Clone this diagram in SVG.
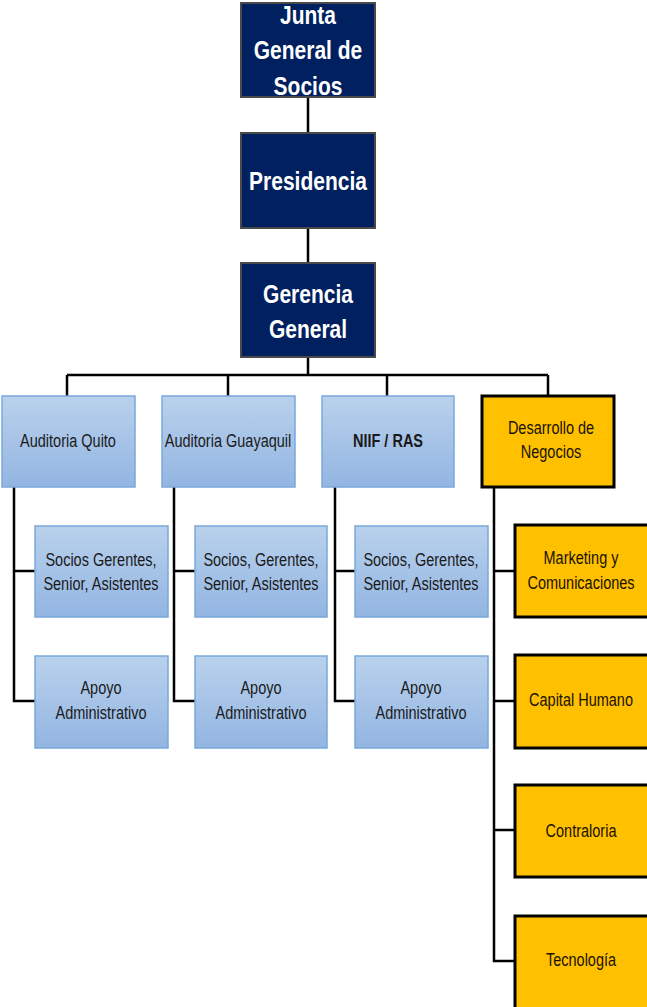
<svg xmlns="http://www.w3.org/2000/svg" width="647" height="1007" viewBox="0 0 647 1007">
<defs>
<linearGradient id="blueGrad" x1="0" y1="0" x2="0" y2="1">
<stop offset="0" stop-color="#b9d1ec"/>
<stop offset="1" stop-color="#93b5e2"/>
</linearGradient>
<style>
.top{fill:#002060;stroke:#4a4a4a;stroke-width:2}
.blue{fill:url(#blueGrad);stroke:#78a8da;stroke-width:1.5}
.orange{fill:#ffc000;stroke:#000;stroke-width:3}
.tt{font-family:"Liberation Sans",Arial,sans-serif;font-weight:bold;font-size:21px;fill:#fff;text-anchor:middle}
.bt{font-family:"Liberation Sans",Arial,sans-serif;font-size:14.5px;fill:#1a1a1a;text-anchor:middle}
.ot{font-family:"Liberation Sans",Arial,sans-serif;font-size:14.5px;fill:#1a1200;text-anchor:middle}
.conn{fill:none;stroke:#000;stroke-width:2.5}
</style>
</defs>
<rect width="647" height="1007" fill="#fff"/>
<g id="connectors">
<path class="conn" d="M308 97V133M308 228V263M308 357V375M67 375H548M67 375V396M228 375V396M387 375V396M548 375V395"/>
<path class="conn" d="M14 487V701H35M14 571H35"/>
<path class="conn" d="M174 487V701H195M174 571H195"/>
<path class="conn" d="M335 487V701H355M335 571H355"/>
<path class="conn" d="M494 487V961H515M494 571H515M494 701H515M494 830H515"/>
</g>
<g id="junta"><rect class="top" x="241" y="3" width="134" height="94"/>
<text class="tt" transform="translate(308,24) scale(1,1.2)">Junta</text><text class="tt" transform="translate(308,59) scale(1,1.2)">General de</text><text class="tt" transform="translate(308,95) scale(1,1.2)">Socios</text></g>
<g id="presidencia"><rect class="top" x="241" y="133" width="134" height="95"/>
<text class="tt" transform="translate(308,190) scale(1,1.2)">Presidencia</text></g>
<g id="gerencia"><rect class="top" x="241" y="263" width="134" height="94"/>
<text class="tt" transform="translate(308,303) scale(1,1.2)">Gerencia</text><text class="tt" transform="translate(308,338) scale(1,1.2)">General</text></g>
<g id="auditoria-quito"><rect class="blue" x="2" y="396" width="133" height="91"/>
<text class="bt" transform="translate(68,447) scale(1,1.25)">Auditoria Quito</text></g>
<g id="auditoria-guayaquil"><rect class="blue" x="162" y="396" width="133" height="91"/>
<text class="bt" transform="translate(228,447) scale(1,1.25)">Auditoria Guayaquil</text></g>
<g id="niif-ras"><rect class="blue" x="322" y="396" width="132" height="91"/>
<text class="bt" transform="translate(388,447) scale(1,1.25)" font-weight="bold">NIIF / RAS</text></g>
<g id="desarrollo"><rect class="orange" x="482" y="396" width="132" height="91"/>
<text class="ot" transform="translate(551,434) scale(1,1.25)">Desarrollo de</text><text class="ot" transform="translate(551,458) scale(1,1.25)">Negocios</text></g>
<g id="socios-quito"><rect class="blue" x="35" y="526" width="133" height="91"/>
<text class="bt" transform="translate(101,566) scale(1,1.25)">Socios Gerentes,</text><text class="bt" transform="translate(101,590) scale(1,1.25)">Senior, Asistentes</text></g>
<g id="apoyo-quito"><rect class="blue" x="35" y="656" width="133" height="92"/>
<text class="bt" transform="translate(101,694) scale(1,1.25)">Apoyo</text><text class="bt" transform="translate(101,719) scale(1,1.25)">Administrativo</text></g>
<g id="socios-guayaquil"><rect class="blue" x="195" y="526" width="132" height="91"/>
<text class="bt" transform="translate(261,566) scale(1,1.25)">Socios, Gerentes,</text><text class="bt" transform="translate(261,590) scale(1,1.25)">Senior, Asistentes</text></g>
<g id="apoyo-guayaquil"><rect class="blue" x="195" y="656" width="132" height="92"/>
<text class="bt" transform="translate(261,694) scale(1,1.25)">Apoyo</text><text class="bt" transform="translate(261,719) scale(1,1.25)">Administrativo</text></g>
<g id="socios-niif"><rect class="blue" x="355" y="526" width="133" height="91"/>
<text class="bt" transform="translate(421,566) scale(1,1.25)">Socios, Gerentes,</text><text class="bt" transform="translate(421,590) scale(1,1.25)">Senior, Asistentes</text></g>
<g id="apoyo-niif"><rect class="blue" x="355" y="656" width="133" height="92"/>
<text class="bt" transform="translate(421,694) scale(1,1.25)">Apoyo</text><text class="bt" transform="translate(421,719) scale(1,1.25)">Administrativo</text></g>
<g id="marketing"><rect class="orange" x="515" y="525" width="135" height="92"/>
<text class="ot" transform="translate(581,564) scale(1,1.25)">Marketing y</text><text class="ot" transform="translate(581,589) scale(1,1.25)">Comunicaciones</text></g>
<g id="capital-humano"><rect class="orange" x="515" y="655" width="135" height="93"/>
<text class="ot" transform="translate(581,706) scale(1,1.25)">Capital Humano</text></g>
<g id="contraloria"><rect class="orange" x="515" y="785" width="135" height="92"/>
<text class="ot" transform="translate(581,837) scale(1,1.25)">Contraloria</text></g>
<g id="tecnologia"><rect class="orange" x="515" y="916" width="135" height="95"/>
<text class="ot" transform="translate(581,966) scale(1,1.25)">Tecnología</text></g>
</svg>
